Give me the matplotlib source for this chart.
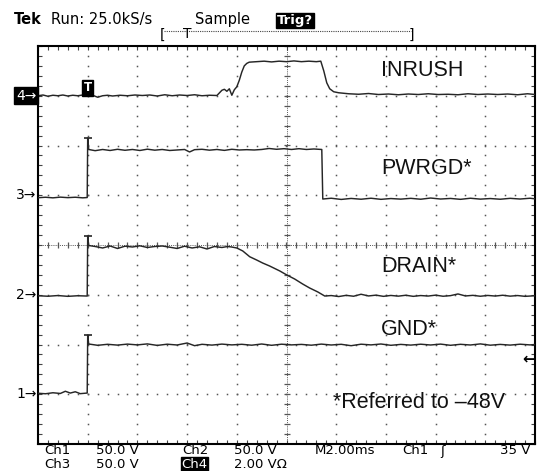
import numpy as np
import matplotlib
matplotlib.use("Agg")
import matplotlib.pyplot as plt
from matplotlib.ticker import MultipleLocator
from matplotlib.lines import Line2D

# ---------------- data (time in ms, trigger at 0) ----------------
# Channel settings: volts per division and ground offset (divisions)
ch_scale = {"1": 50.0, "2": 50.0, "3": 50.0, "4": 2.0}
ch_offset = {"1": -3.0, "2": -1.0, "3": 1.0, "4": 3.0}

# CH4  INRUSH (V, 2 V/div)
t4 = [-2.0, -1.8, -1.6, -1.4, -1.2, -1.0, -0.8, -0.6, -0.4, -0.2, 0.0, 0.2, 0.4, 0.6,
      0.8, 1.0, 1.3, 1.6, 1.9, 2.2, 2.5, 2.8, 3.1, 3.4, 3.7, 4.0, 4.3, 4.6, 4.9, 5.2,
      5.4, 5.5, 5.6, 5.7, 5.8, 5.9, 6.0, 6.1, 6.2, 6.3, 6.4, 6.5, 6.8, 7.1, 7.4, 7.7,
      8.0, 8.3, 8.6, 8.9, 9.2, 9.38, 9.5, 9.62, 9.74, 9.9, 10.1, 10.5, 10.9, 11.3,
      11.7, 12.1, 12.5, 12.9, 13.3, 13.7, 14.1, 14.5, 14.9, 15.3, 15.7, 16.1, 16.5,
      16.9, 17.3, 17.7, 18.0]
v4 = [0.0, 0.03, -0.02, 0.02, 0.0, 0.03, -0.01, 0.02, 0.0, 0.03, 0.04, 0.02, -0.06, 0.0,
      0.02, -0.01, 0.02, 0.0, 0.03, 0.01, 0.03, -0.01, 0.04, 0.0, 0.03, 0.01, 0.04, 0.0,
      0.02, 0.01, 0.22, 0.26, 0.18, 0.28, 0.02, 0.24, 0.36, 0.62, 0.95, 1.2, 1.3, 1.35,
      1.37, 1.39, 1.36, 1.39, 1.37, 1.40, 1.37, 1.39, 1.37, 1.39, 1.0, 0.52, 0.28, 0.16,
      0.12, 0.08, 0.06, 0.09, 0.05, 0.07, 0.04, 0.07, 0.05, 0.08, 0.05, 0.06, 0.04,
      0.08, 0.05, 0.07, 0.05, 0.07, 0.04, 0.08, 0.05]

# CH3  PWRGD (V, 50 V/div)
t3 = [-2.0, -1.7, -1.4, -1.1, -0.8, -0.5, -0.2, -0.02, 0.0, 0.04, 0.3, 0.6, 0.9, 1.2,
      1.5, 1.8, 2.1, 2.4, 2.7, 3.0, 3.3, 3.6, 3.9, 4.1, 4.3, 4.6, 4.9, 5.2, 5.5, 5.8,
      6.1, 6.4, 6.7, 7.0, 7.3, 7.6, 7.9, 8.2, 8.5, 8.8, 9.1, 9.42, 9.46, 9.8, 10.2,
      10.6, 11.0, 11.4, 11.8, 12.2, 12.6, 13.0, 13.4, 13.8, 14.2, 14.6, 15.0, 15.4,
      15.8, 16.2, 16.6, 17.0, 17.4, 17.8, 18.0]
v3 = [-2.5, -2.0, -2.6, -1.9, -2.4, -2.0, -2.6, -2.3, 57.5, 46.0, 44.8, 46.0, 45.0, 46.2,
      45.2, 46.0, 45.0, 46.3, 45.3, 46.0, 45.0, 45.5, 46.0, 43.5, 45.8, 46.2, 45.3, 46.0,
      45.1, 46.2, 45.5, 45.8, 45.5, 46.0, 47.0, 46.2, 46.8, 46.0, 46.8, 46.0, 46.5, 46.0,
      -3.8, -3.0, -4.2, -3.2, -4.0, -3.0, -4.1, -3.3, -3.9, -3.1, -4.0, -2.8, -3.8,
      -3.2, -4.1, -3.0, -3.9, -3.3, -4.0, -3.1, -3.8, -3.0, -3.6]

# CH2  DRAIN (V, 50 V/div)
t2 = [-2.0, -1.6, -1.2, -0.8, -0.4, -0.02, 0.0, 0.04, 0.3, 0.6, 0.9, 1.2, 1.5, 1.8, 2.1,
      2.4, 2.7, 3.0, 3.3, 3.6, 3.9, 4.2, 4.5, 4.8, 5.1, 5.4, 5.63, 5.79, 6.0, 6.24,
      6.52, 6.80, 7.04, 7.32, 7.73, 8.01, 8.33, 8.65, 8.93, 9.26, 9.54, 9.8, 10.1,
      10.4, 10.7, 11.0, 11.3, 11.6, 11.9, 12.2, 12.5, 12.8, 13.1, 13.4, 13.7, 14.0,
      14.3, 14.6, 14.9, 15.2, 15.5, 15.8, 16.1, 16.4, 16.7, 17.0, 17.3, 17.6, 18.0]
v2 = [-1.0, -1.5, -0.8, -1.6, -1.0, -1.3, 59.0, 49.5, 48.5, 47.0, 49.0, 46.5, 48.8, 48.0,
      49.2, 47.5, 48.5, 49.0, 47.8, 46.5, 48.8, 47.0, 48.2, 46.0, 48.5, 47.5, 48.5, 48.0,
      47.0, 44.0, 38.2, 34.9, 31.9, 28.9, 23.9, 19.9, 15.8, 10.8, 6.8, 2.8, -1.3, -0.8,
      -1.8, -0.6, -1.5, 0.5, -1.2, -0.4, -1.6, -0.7, -1.4, -0.5, -1.6, -0.8, -1.3, -0.4,
      -1.5, -0.9, 0.8, -1.2, -0.6, -1.5, -0.7, -1.3, -0.5, -1.4, -0.8, -1.6, -1.0]

# CH1  GND (V, 50 V/div)
t1 = [-2.0, -1.7, -1.4, -1.1, -0.9, -0.7, -0.5, -0.3, -0.02, 0.0, 0.04, 0.4, 0.8, 1.2,
      1.6, 2.0, 2.4, 2.8, 3.2, 3.6, 4.0, 4.3, 4.6, 5.0, 5.4, 5.8, 6.2, 6.6, 7.0, 7.4,
      7.8, 8.2, 8.6, 9.0, 9.4, 9.8, 10.2, 10.6, 11.0, 11.4, 11.8, 12.2, 12.6, 13.0,
      13.4, 13.8, 14.2, 14.6, 15.0, 15.4, 15.8, 16.2, 16.6, 17.0, 17.4, 17.8, 18.0]
v1 = [1.0, 0.5, 1.5, 0.8, 3.0, 1.2, 2.5, 0.6, 1.2, 59.5, 50.5, 49.2, 50.2, 49.4, 50.4,
      49.6, 50.6, 49.1, 50.3, 49.5, 51.5, 48.8, 50.2, 49.4, 50.4, 49.6, 50.2, 49.3, 50.5,
      49.2, 50.3, 49.6, 50.1, 49.3, 50.4, 49.5, 50.2, 48.8, 50.3, 49.6, 50.5, 49.2, 50.1,
      49.4, 50.3, 49.5, 50.4, 49.2, 50.2, 49.5, 50.6, 49.3, 50.1, 49.4, 50.3, 49.6, 50.0]

trig_level_ch1 = 35.0

labels = ["INRUSH", "PWRGD*", "DRAIN*", "GND*"]
note = "*Referred to \u201348V"

# ---------------- figure ----------------
W, H = 538, 471
fig = plt.figure(figsize=(W / 100, H / 100), dpi=100)
fig.patch.set_facecolor("white")
L, T, R, B = 38, 46, 535, 444
ax = fig.add_axes([L / W, 1 - B / H, (R - L) / W, (B - T) / H])
ax.set_xlim(-2, 18)
ax.set_ylim(-4, 4)
ax.set_facecolor("white")


def fx(x):
    return x / W


def fy(y):
    return 1 - y / H


grid_c = "#555555"
# dotted graticule
yy = np.arange(-4, 4.001, 0.2)
xx = np.arange(-2, 18.001, 0.4)
for gx in np.arange(0, 17, 2):
    if abs(gx - 8) < 1e-6:
        continue
    ax.plot(np.full_like(yy, gx), yy, ls="none", marker="s", ms=1.1, mew=0,
            color=grid_c, zorder=1)
for gy in range(-3, 4):
    if gy == 0:
        continue
    ax.plot(xx, np.full_like(xx, gy), ls="none", marker="s", ms=1.1, mew=0,
            color=grid_c, zorder=1)

# center axes with ticks
ax.axvline(8, color=grid_c, lw=0.7, ls=(0, (1, 1.2)), zorder=1)
ax.axhline(0, color=grid_c, lw=0.7, ls=(0, (1, 1.2)), zorder=1)
ax.plot(np.full_like(yy, 8), yy, ls="none", marker="_", ms=5, mew=0.9, color=grid_c, zorder=1)
ax.plot(xx, np.zeros_like(xx), ls="none", marker="|", ms=5, mew=0.9, color=grid_c, zorder=1)

# border ticks
ax.xaxis.set_major_locator(MultipleLocator(2))
ax.xaxis.set_minor_locator(MultipleLocator(0.4))
ax.yaxis.set_major_locator(MultipleLocator(1))
ax.yaxis.set_minor_locator(MultipleLocator(0.2))
ax.tick_params(which="both", direction="in", top=True, right=True, bottom=True, left=True,
               length=3, width=0.8, color="#444444",
               labelbottom=False, labelleft=False)
for s in ax.spines.values():
    s.set_linewidth(1.5)
    s.set_color("black")

# traces
trace_c = "#262626"
for ch, t, v in (("4", t4, v4), ("3", t3, v3), ("2", t2, v2), ("1", t1, v1)):
    tt = np.array(t)
    vv = ch_offset[ch] + np.array(v) / ch_scale[ch]
    ax.plot(tt, vv, color=trace_c, lw=1.05, zorder=3)
    if ch != "4":
        i = int(np.argmax(vv))
        ax.plot(tt[i], vv[i], marker="_", ms=6, mew=1.2, color=trace_c, zorder=3)

# trigger position box on ch4
ax.text(0, ch_offset["4"] + 0.03, "T", ha="center", va="bottom", color="white",
        fontsize=8.5, fontweight="bold", zorder=5,
        bbox=dict(boxstyle="square,pad=0.12", fc="black", ec="black"))

# trigger level arrow on right
ax.text(18, ch_offset["1"] + trig_level_ch1 / ch_scale["1"], "\u2190", ha="right",
        va="center", fontsize=11, fontweight="bold", color="black", clip_on=False)

# channel ground markers
yt = ax.get_yaxis_transform()
for ch in ("1", "2", "3"):
    ax.text(-0.003, ch_offset[ch], ch + "\u2192", transform=yt, ha="right", va="center",
            fontsize=10, color="black", clip_on=False)
ax.text(-0.003, ch_offset["4"], "4\u2192", transform=yt, ha="right", va="center",
        fontsize=10, color="white", clip_on=False,
        bbox=dict(boxstyle="square,pad=0.12", fc="black", ec="black"))

# waveform labels
lab_font = dict(family="Liberation Sans", fontsize=15.5, color="#111111")
for txt, yb in zip(labels, (76.5, 174, 272.3, 335)):
    fig.text(fx(381), fy(yb), txt, ha="left", va="baseline", **lab_font)
fig.text(fx(333), fy(408), note, ha="left", va="baseline", **lab_font)

# header
hf = dict(family="DejaVu Sans", fontsize=10.5, color="black", va="baseline")
fig.text(fx(14), fy(24), "Tek", fontweight="bold", **hf)
fig.text(fx(51), fy(24), "Run: 25.0kS/s", **hf)
fig.text(fx(195), fy(24), "Sample", **hf)
fig.text(fx(277), fy(24), "Trig?", fontweight="bold", family="DejaVu Sans", fontsize=9.5,
         color="white", va="baseline",
         bbox=dict(boxstyle="square,pad=0.1", fc="black", ec="black"))
fig.text(fx(160), fy(39), "[", fontsize=10, va="baseline", color="black")
fig.text(fx(409), fy(39), "]", fontsize=10, va="baseline", color="black")
fig.text(fx(187), fy(38), "T", fontsize=10, ha="center", va="baseline", color="black")
fig.add_artist(Line2D([fx(164), fx(411)], [fy(31), fy(31)], transform=fig.transFigure,
                      color="#444444", lw=0.8, ls=(0, (1, 1))))

# footer
ff = dict(family="DejaVu Sans", fontsize=9.5, color="black", va="baseline")
r1, r2 = 454.5, 467.5
fig.text(fx(44), fy(r1), "Ch1", **ff)
fig.text(fx(96), fy(r1), "50.0 V", **ff)
fig.text(fx(182), fy(r1), "Ch2", **ff)
fig.text(fx(234), fy(r1), "50.0 V", **ff)
fig.text(fx(315), fy(r1), "M2.00ms", **ff)
fig.text(fx(402), fy(r1), "Ch1", **ff)
fig.text(fx(440), fy(r1), "\u0283", **ff)
fig.text(fx(530), fy(r1), "35 V", ha="right", **ff)
fig.text(fx(44), fy(r2), "Ch3", **ff)
fig.text(fx(96), fy(r2), "50.0 V", **ff)
fig.text(fx(181), fy(r2), "Ch4", color="white", family="DejaVu Sans", fontsize=9.5,
         va="baseline", bbox=dict(boxstyle="square,pad=0.03", fc="black", ec="black"))
fig.text(fx(234), fy(r2), "2.00 V\u03a9", **ff)

fig.savefig("out.png", dpi=100, facecolor="white")
